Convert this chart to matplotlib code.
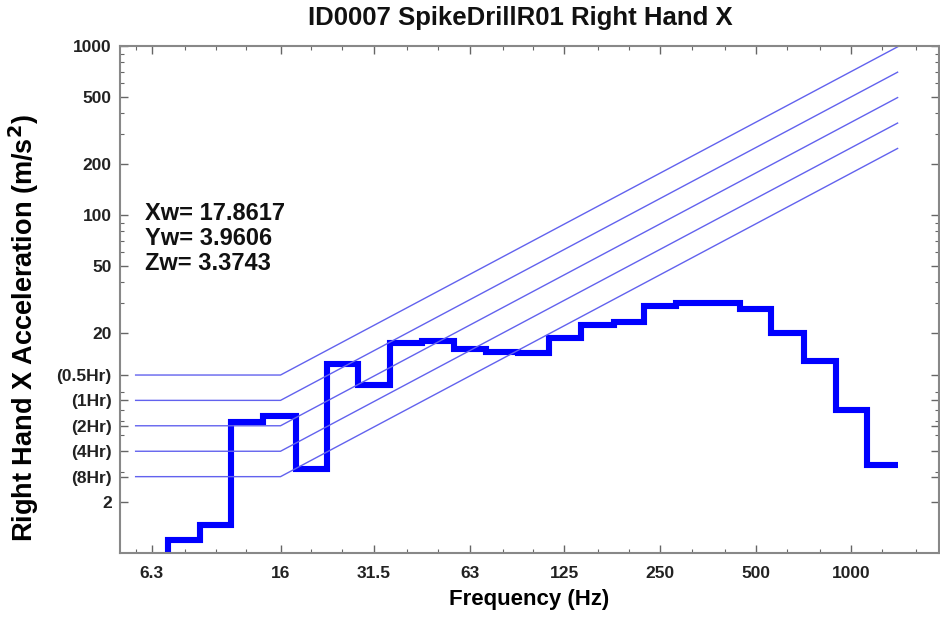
import matplotlib
matplotlib.use("Agg")
import matplotlib.pyplot as plt
from matplotlib.ticker import FixedLocator, FixedFormatter, NullFormatter

# third-octave band centres (Hz) and measured unweighted acceleration (m/s^2)
band_hz = [6.3, 8, 10, 12.5, 16, 20, 25, 31.5, 40, 50, 63, 80, 100, 125,
           160, 200, 250, 315, 400, 500, 630, 800, 1000, 1250]
accel = [0.8, 1.19, 1.46, 5.97, 6.46, 3.13, 13.2, 9.86, 17.4, 18.0, 16.2, 15.5,
         15.2, 18.6, 22.3, 23.3, 28.8, 30.0, 30.2, 27.6, 19.9, 13.6, 7.0, 3.3]

# exposure limit lines: flat level below the corner, rising 1/f-weighted above
hour_labels = ["(0.5Hr)", "(1Hr)", "(2Hr)", "(4Hr)", "(8Hr)"]
hour_levels = [11.3, 8.0, 5.66, 4.0, 2.83]
limit_freqs = [5.6, 16, 1400]
corner_hz = 16

weighted = ["Xw= 17.8617", "Yw= 3.9606", "Zw= 3.3743"]

x_ticks = [6.3, 16, 31.5, 63, 125, 250, 500, 1000]
x_tick_labels = ["6.3", "16", "31.5", "63", "125", "250", "500", "1000"]
y_ticks = [2, 20, 50, 100, 200, 500, 1000]
y_tick_labels = ["2", "20", "50", "100", "200", "500", "1000"]

plt.rcParams["font.family"] = ["Liberation Sans", "DejaVu Sans"]
plt.rcParams["font.weight"] = "bold"

fig = plt.figure(figsize=(9.4, 6.21), dpi=100)
ax = fig.add_axes([120 / 940, 68 / 621, 819 / 940, 507 / 621])

# band edges halfway (geometrically) between neighbouring centres
step = 2 ** (1 / 6)
edges = [band_hz[0] / step]
for a, b in zip(band_hz[:-1], band_hz[1:]):
    edges.append((a * b) ** 0.5)
edges.append(band_hz[-1] * step)

for lvl in hour_levels:
    ys = [lvl * max(1.0, f / corner_hz) for f in limit_freqs]
    ax.plot(limit_freqs, ys, color="#6262ee", linewidth=1.0)

ax.stairs(accel, edges, baseline=None, color="#0000ff", linewidth=4.4)

ax.set_xscale("log")
ax.set_yscale("log")
ax.set_xlim(5, 1890)
ax.set_ylim(1, 1000)

ax.xaxis.set_major_locator(FixedLocator(x_ticks))
ax.xaxis.set_major_formatter(FixedFormatter(x_tick_labels))
minor_x = [5.6, 8, 10, 12.5, 20, 25, 40, 50, 80, 100, 160, 200, 315, 400,
           630, 800, 1250, 1600]
ax.xaxis.set_minor_locator(FixedLocator(minor_x))
ax.xaxis.set_minor_formatter(NullFormatter())

yt = y_ticks + hour_levels
yl = y_tick_labels + hour_labels
ax.yaxis.set_major_locator(FixedLocator(yt))
ax.yaxis.set_major_formatter(FixedFormatter(yl))
minor_y = [m * d for d in (1, 10, 100) for m in range(2, 10)]
ax.yaxis.set_minor_locator(FixedLocator(minor_y))
ax.yaxis.set_minor_formatter(NullFormatter())

ax.tick_params(which="both", direction="in", top=True, right=True,
               colors="#666666", labelcolor="#222222", labelsize=12.5)
ax.tick_params(which="major", length=6, width=1)
ax.tick_params(which="minor", length=3, width=0.8)
ax.tick_params(axis="x", pad=9)
ax.tick_params(axis="y", pad=6)
for s in ax.spines.values():
    s.set_color("#888888")
    s.set_linewidth(1.5)

for i, t in enumerate(weighted):
    ax.text(0.031, 0.669 - i * 0.049, t, transform=ax.transAxes,
            fontsize=17, fontweight="bold", color="#111111", va="center")

fig.text(0.553, 1 - 18 / 621, "ID0007 SpikeDrillR01 Right Hand X",
         ha="center", va="center", fontsize=18.5, fontweight="bold", color="#111111")
ax.set_xlabel("Frequency (Hz)", fontsize=16, fontweight="bold", labelpad=6)
ax.set_ylabel("Right Hand X Acceleration (m/s$^\\mathbf{2}$)", fontsize=19.5,
              fontweight="bold")
ax.yaxis.set_label_coords(-0.097, 0.444)

fig.savefig("out.png", dpi=100)
